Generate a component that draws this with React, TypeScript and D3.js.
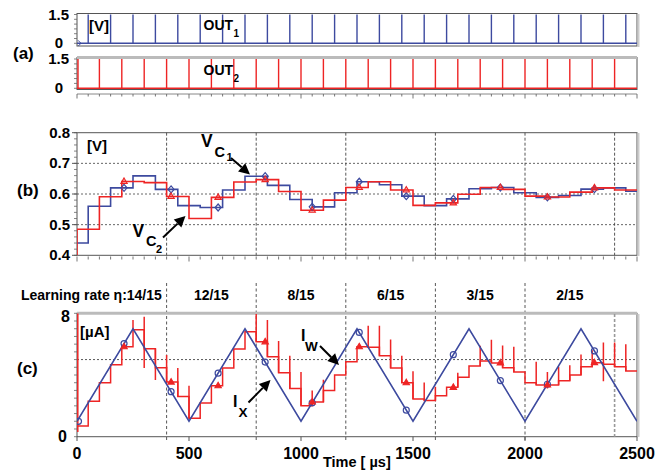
import React from "react";
import * as d3 from "d3";

const W = 661;
const H = 473;

// ---- Panel (a): output spikes (µs)
const out1Times = [50, 150, 250, 350, 450, 550, 650, 750, 850, 950, 1050, 1150, 1250, 1350, 1450, 1550, 1650, 1750, 1850, 1950, 2050, 2150, 2250, 2350, 2450];
const out2Times = [0, 100, 200, 300, 400, 500, 600, 700, 800, 900, 1000, 1100, 1200, 1300, 1400, 1500, 1600, 1700, 1800, 1900, 2000, 2100, 2200, 2300, 2400];
const outHigh = 1.5;

// ---- Panel (b): capacitor voltages (step functions) [V]
const vc1Times = [0, 50, 150, 250, 350, 450, 550, 650, 750, 850, 950, 1050, 1150, 1250, 1350, 1450, 1550, 1650, 1750, 1850, 1950, 2050, 2150, 2250, 2350, 2450];
const vc1Values = [0.44, 0.56, 0.62, 0.659, 0.615, 0.562, 0.556, 0.613, 0.658, 0.628, 0.582, 0.558, 0.604, 0.64, 0.63, 0.593, 0.562, 0.584, 0.617, 0.621, 0.604, 0.589, 0.595, 0.616, 0.62, 0.609];
const vc2Times = [0, 100, 200, 300, 400, 500, 600, 700, 800, 900, 1000, 1100, 1200, 1300, 1400, 1500, 1600, 1700, 1800, 1900, 2000, 2100, 2200, 2300, 2400];
const vc2Values = [0.485, 0.591, 0.641, 0.637, 0.592, 0.52, 0.589, 0.639, 0.647, 0.608, 0.547, 0.58, 0.621, 0.64, 0.613, 0.563, 0.571, 0.599, 0.621, 0.615, 0.593, 0.59, 0.606, 0.62, 0.613];
const vc2Start = 0.4;

// ---- Panel (c): currents [µA]
const ixTimes = [0, 250, 500, 750, 1000, 1250, 1500, 1750, 2000, 2250, 2500];
const ixValues = [1, 7, 1, 7, 1, 7, 1, 7, 1, 7, 1];
const iwTimes = [0, 50, 100, 150, 200, 250, 300, 350, 400, 450, 500, 550, 600, 650, 700, 750, 800, 850, 900, 950, 1000, 1050, 1100, 1150, 1200, 1250, 1300, 1350, 1400, 1450, 1500, 1550, 1600, 1650, 1700, 1750, 1800, 1850, 1900, 1950, 2000, 2050, 2100, 2150, 2200, 2250, 2300, 2350, 2400, 2450];
const iwValues = [0.7, 2.3, 3.5, 4.67, 5.83, 6.93, 5.7, 4.47, 3.54, 2.6, 1.2, 2.18, 3.3, 4.45, 5.68, 6.8, 6.15, 5.18, 4.15, 3.13, 2.0, 2.25, 3.0, 4.0, 4.86, 5.83, 5.8, 5.25, 4.45, 3.5, 2.45, 2.35, 2.65, 3.2, 3.85, 4.58, 4.9, 4.78, 4.47, 4.2, 3.5, 3.35, 3.35, 3.62, 4.0, 4.54, 4.8, 4.69, 4.54, 4.26];
const iwSpikeTimes = [0, 250, 300, 350, 400, 450, 500, 800, 850, 900, 950, 1000, 1050, 1100, 1300, 1350, 1400, 1450, 1500, 1550, 1600, 1700, 1800, 1850, 1900, 1950, 2050, 2100, 2150, 2200, 2250, 2300, 2350, 2400, 2450];
const iwSpikeHigh = [8, 7.56, 7.78, 5.7, 5.3, 4.45, 3.3, 7.95, 7.56, 6.2, 5.25, 4.2, 3.0, 3.7, 7.2, 7.2, 6.3, 5.25, 4.25, 3.52, 3.24, 4.15, 5.9, 6.28, 5.92, 5.83, 4.86, 4.2, 4.54, 4.64, 5.33, 5.6, 6.1, 6.1, 6.0];
const iwSpikeLow = [0.3, 6.93, 4.45, 3.67, 3.54, 2.6, 1.2, 6.15, 5.18, 4.15, 3.13, 2.0, 2.0, 2.25, 5.8, 5.25, 4.45, 3.5, 2.45, 2.35, 2.35, 3.2, 4.58, 4.78, 4.47, 4.2, 3.35, 3.13, 3.35, 3.62, 4.0, 4.54, 3.6, 4.54, 4.26];

const markerTimes = [0, 210, 420, 630, 840, 1050, 1260, 1470, 1680, 1890, 2100, 2310];

const segmentBounds = [0, 400, 800, 1200, 1600, 2000, 2400];
const learningLabels = ["Learning rate \u03b7:14/15", "12/15", "8/15", "6/15", "3/15", "2/15"];
const xTickValues = [0, 500, 1000, 1500, 2000, 2500];

const BLUE = "#3d4a9f";
const RED = "#ee2424";
const FONT = "'Liberation Sans', Arial, sans-serif";

function stepValue(times: number[], values: number[], t: number) {
  const i = d3.bisectRight(times, t) - 1;
  return values[Math.max(0, i)];
}

function Arrow({ x1, y1, x2, y2 }: { x1: number; y1: number; x2: number; y2: number }) {
  const ang = Math.atan2(y2 - y1, x2 - x1);
  const L = 11, Wd = 5.5;
  const bx = x2 - L * Math.cos(ang), by = y2 - L * Math.sin(ang);
  const px = -Math.sin(ang) * Wd, py = Math.cos(ang) * Wd;
  return (
    <g>
      <line x1={x1} y1={y1} x2={bx} y2={by} stroke="#000" strokeWidth={2} />
      <polygon points={`${x2},${y2} ${bx + px},${by + py} ${bx - px},${by - py}`} fill="#000" />
    </g>
  );
}

export default function App() {
  const L = 77, R = 637;
  const x = d3.scaleLinear().domain([0, 2500]).range([L, R]);
  const yA1 = d3.scaleLinear().domain([0, 1.5]).range([43.3, 14.5]);
  const yA2 = d3.scaleLinear().domain([0, 1.5]).range([88.3, 59]);
  const yB = d3.scaleLinear().domain([0.4, 0.8]).range([255.3, 132.7]);
  const yC = d3.scaleLinear().domain([0, 8]).range([436.7, 313.3]);
  const ix = d3.scaleLinear().domain(ixTimes).range(ixValues);

  const stepLine = (times: number[], values: number[], ys: any, start?: number) => {
    const pts: [number, number][] = times.map((t, i) => [t, values[i]]);
    pts.push([2500, values[values.length - 1]]);
    if (start !== undefined) pts.unshift([0, start]);
    return d3
      .line<[number, number]>()
      .x((d) => x(d[0]))
      .y((d) => ys(d[1]))
      .curve(d3.curveStepAfter)(pts) as string;
  };

  const ixPath = d3
    .line<number>()
    .x((t) => x(t))
    .y((t) => yC(ix(t)))(ixTimes) as string;

  const minorTicks = d3.range(0, 2501, 50);
  const frameStroke = "#555";

  const yTicksMinor = (ys: any, lo: number, hi: number, step: number) =>
    d3.range(lo, hi + step / 2, step).map((v, i) => (
      <line key={i} x1={L - 3} x2={L} y1={ys(v)} y2={ys(v)} stroke="#666" strokeWidth={0.8} />
    ));

  const diamond = (cx: number, cy: number, k: string) => (
    <polygon key={k} points={`${cx},${cy - 3.5} ${cx + 3},${cy} ${cx},${cy + 3.5} ${cx - 3},${cy}`} fill="none" stroke={BLUE} strokeWidth={1.2} />
  );
  const triangle = (cx: number, cy: number, k: string, fill: string) => (
    <polygon key={k} points={`${cx},${cy - 3.5} ${cx + 3.2},${cy + 2} ${cx - 3.2},${cy + 2}`} fill={fill} stroke={RED} strokeWidth={1.1} />
  );

  const label = { fontFamily: FONT, fontWeight: 700 } as const;

  return (
    <svg width={W} height={H} viewBox={`0 0 ${W} ${H}`} style={{ display: "block", position: "absolute", left: 0, top: 0, background: "#fff" }}>
      <defs>
        <clipPath id="clipA1"><rect x={L} y={13.5} width={R - L} height={32.5} /></clipPath>
        <clipPath id="clipA2"><rect x={L} y={57.5} width={R - L} height={32} /></clipPath>
        <clipPath id="clipB"><rect x={L} y={132.7} width={R - L} height={122.6} /></clipPath>
        <clipPath id="clipC"><rect x={L} y={313.3} width={R - L} height={123.4} /></clipPath>
      </defs>
      <rect x={0} y={0} width={W} height={H} fill="#fff" />

      {/* ================= Panel (a) ================= */}
      <rect x={L} y={13.5} width={R - L} height={32.5} fill="none" stroke={frameStroke} strokeWidth={1} />
      <line x1={R + 1.5} x2={R + 1.5} y1={14} y2={47} stroke="#ccc" strokeWidth={2} />
      <g clipPath="url(#clipA1)">
        <line x1={L} x2={R} y1={yA1(0)} y2={yA1(0)} stroke={BLUE} strokeWidth={1.5} />
        {out1Times.map((t, i) => (
          <line key={i} x1={x(t)} x2={x(t)} y1={yA1(0)} y2={yA1(outHigh)} stroke={BLUE} strokeWidth={1.4} />
        ))}
        <path d={`M${x(0) + 1},${yA1(0) - 3} L${x(0) + 4},${yA1(0)} L${x(0) + 1},${yA1(0) + 3}`} fill="none" stroke={BLUE} strokeWidth={1} />
      </g>
      {yTicksMinor(yA1, 0, 1.5, 0.25)}
      <text x={69} y={yA1(1.5) + 5} textAnchor="end" fontSize={15} {...label}>1.5</text>
      <text x={63} y={yA1(0) + 5} textAnchor="end" fontSize={15} {...label}>0</text>
      <text x={89} y={31} fontSize={15} {...label}>[V]</text>
      <text x={203.5} y={29.5} fontSize={14} {...label}>OUT</text>
      <text x={233.5} y={36.5} fontSize={10} {...label}>1</text>

      <rect x={L} y={57.5} width={R - L} height={32} fill="none" stroke={frameStroke} strokeWidth={1} />
      <line x1={L} x2={R} y1={57.5} y2={57.5} stroke="#bbb" strokeWidth={3} />
      <g clipPath="url(#clipA2)">
        <line x1={L} x2={R} y1={yA2(0)} y2={yA2(0)} stroke={RED} strokeWidth={1.5} />
        {out2Times.map((t, i) => (
          <line key={i} x1={x(t) + (t === 0 ? 1 : 0)} x2={x(t) + (t === 0 ? 1 : 0)} y1={yA2(0)} y2={yA2(outHigh)} stroke={RED} strokeWidth={1.4} />
        ))}
      </g>
      {yTicksMinor(yA2, 0, 1.5, 0.25)}
      <text x={69} y={yA2(1.5) + 5} textAnchor="end" fontSize={15} {...label}>1.5</text>
      <text x={63} y={yA2(0) + 5} textAnchor="end" fontSize={15} {...label}>0</text>
      <text x={203.5} y={75} fontSize={14} {...label}>OUT</text>
      <text x={233.5} y={81.7} fontSize={10} {...label}>2</text>
      <text x={13} y={58.5} fontSize={17} {...label}>(a)</text>

      {/* axis under (a) */}
      <line x1={L} x2={R} y1={94} y2={94} stroke="#888" strokeWidth={1} />
      {minorTicks.map((t, i) => (
        <line key={i} x1={x(t)} x2={x(t)} y1={94} y2={t % 500 === 0 ? 98.5 : 96.5} stroke="#666" strokeWidth={0.9} />
      ))}

      {/* ================= Panel (b) ================= */}
      <rect x={L} y={132.7} width={R - L} height={122.6} fill="none" stroke={frameStroke} strokeWidth={1} />
      <line x1={R + 1.5} x2={R + 1.5} y1={133} y2={256} stroke="#ccc" strokeWidth={2} />
      {[0.5, 0.6, 0.7].map((v) => (
        <line key={v} x1={L} x2={R} y1={yB(v)} y2={yB(v)} stroke="#555" strokeWidth={0.9} strokeDasharray="2,2" />
      ))}
      {segmentBounds.slice(1).map((t) => (
        <line key={t} x1={x(t)} x2={x(t)} y1={132.7} y2={255.3} stroke="#444" strokeWidth={0.9} strokeDasharray="3,2" />
      ))}
      <g clipPath="url(#clipB)">
        <path d={stepLine(vc1Times, vc1Values, yB)} fill="none" stroke={BLUE} strokeWidth={1.6} />
        <path d={stepLine(vc2Times, vc2Values, yB, vc2Start)} fill="none" stroke={RED} strokeWidth={1.6} />
        {markerTimes.slice(1).map((t, i) => diamond(x(t), yB(stepValue(vc1Times, vc1Values, t)), "d" + i))}
        {markerTimes.slice(1).map((t, i) => triangle(x(t), yB(stepValue(vc2Times, vc2Values, t)), "t" + i, "rgba(238,36,36,0.35)"))}
      </g>
      {yTicksMinor(yB, 0.4, 0.8, 0.02)}
      {[0.4, 0.5, 0.6, 0.7, 0.8].map((v) => (
        <g key={v}>
          <line x1={L - 5} x2={L} y1={yB(v)} y2={yB(v)} stroke="#555" strokeWidth={1} />
          <text x={70} y={yB(v) + 5} textAnchor="end" fontSize={15} {...label}>{v.toFixed(1)}</text>
        </g>
      ))}
      {minorTicks.map((t, i) => (
        <line key={i} x1={x(t)} x2={x(t)} y1={256.5} y2={t % 500 === 0 ? 261.5 : 259.5} stroke="#666" strokeWidth={0.9} />
      ))}
      <text x={87} y={151} fontSize={15} {...label}>[V]</text>
      <text x={17} y={196} fontSize={17} {...label}>(b)</text>
      {/* V_C1 */}
      <text x={201} y={147} fontSize={17.5} {...label}>V</text>
      <text x={214.5} y={157} fontSize={14.5} {...label}>C</text>
      <text x={226.5} y={161} fontSize={11} {...label}>1</text>
      <Arrow x1={231} y1={158} x2={250} y2={174.5} />
      {/* V_C2 */}
      <text x={132.5} y={237} fontSize={17.5} {...label}>V</text>
      <text x={146} y={246} fontSize={14.5} {...label}>C</text>
      <text x={156} y={252.5} fontSize={11} {...label}>2</text>
      <Arrow x1={163} y1={237.5} x2={185.5} y2={216} />

      {/* ================= Panel (c) ================= */}
      {segmentBounds.slice(1, 6).map((t) => (
        <line key={t} x1={x(t)} x2={x(t)} y1={283} y2={441} stroke="#444" strokeWidth={0.9} strokeDasharray="3,2.5" />
      ))}
      {learningLabels.map((s, i) =>
        i === 0 ? (
          <text key={i} x={21} y={300} fontSize={14} {...label}>{s}</text>
        ) : (
          <text key={i} x={x((segmentBounds[i] + segmentBounds[i + 1]) / 2)} y={300} textAnchor="middle" fontSize={14} {...label}>{s}</text>
        )
      )}
      <rect x={L} y={313.3} width={R - L} height={123.4} fill="none" stroke={frameStroke} strokeWidth={1} />
      <line x1={L} x2={R} y1={313.3} y2={313.3} stroke="#bbb" strokeWidth={3} />
      <line x1={R + 1.5} x2={R + 1.5} y1={314} y2={437} stroke="#ccc" strokeWidth={2} />
      <line x1={L} x2={R} y1={yC(5)} y2={yC(5)} stroke="#444" strokeWidth={0.9} strokeDasharray="2,2" />
      <line x1={x(2400)} x2={x(2400)} y1={314} y2={436.7} stroke="#999" strokeWidth={1.6} strokeDasharray="3,2" />
      <g clipPath="url(#clipC)">
        <path d={stepLine(iwTimes, iwValues, yC)} fill="none" stroke={RED} strokeWidth={1.5} />
        {iwSpikeTimes.map((t, i) => (
          <line key={i} x1={x(t) + (t === 0 ? 0.8 : 0)} x2={x(t) + (t === 0 ? 0.8 : 0)} y1={yC(iwSpikeHigh[i])} y2={yC(iwSpikeLow[i])} stroke={RED} strokeWidth={1.5} />
        ))}
        <path d={ixPath} fill="none" stroke={BLUE} strokeWidth={1.6} />
        {markerTimes.map((t, i) => (
          <circle key={"c" + i} cx={x(t) + (t === 0 ? 1.5 : 0)} cy={yC(ix(t))} r={3} fill="none" stroke={BLUE} strokeWidth={1.2} />
        ))}
        {markerTimes.slice(1).map((t, i) => triangle(x(t), yC(stepValue(iwTimes, iwValues, t)), "ct" + i, RED))}
      </g>
      {yTicksMinor(yC, 0, 8, 0.5)}
      <text x={70} y={yC(8) + 9} textAnchor="end" fontSize={16} {...label}>8</text>
      <text x={67} y={yC(0) + 5.5} textAnchor="end" fontSize={16} {...label}>0</text>
      {xTickValues.map((t) => (
        <g key={t}>
          <line x1={x(t)} x2={x(t)} y1={436.7} y2={441} stroke="#555" strokeWidth={1} />
          <text x={x(t)} y={459} textAnchor="middle" fontSize={16} {...label}>{t}</text>
        </g>
      ))}
      <text x={80} y={337} fontSize={15} {...label}>[µA]</text>
      <text x={17} y={374} fontSize={17} {...label}>(c)</text>
      {/* I_W */}
      <text x={301} y={341} fontSize={16} {...label}>I</text>
      <text x={305} y={351} fontSize={13.5} {...label}>W</text>
      <Arrow x1={320} y1={346} x2={339} y2={365} />
      {/* I_X */}
      <text x={233} y={407} fontSize={16} {...label}>I</text>
      <text x={238.5} y={416.5} fontSize={13.5} {...label}>X</text>
      <Arrow x1={248.5} y1={402.5} x2={270.5} y2={380} />

      <text x={323} y={467} fontSize={14.5} {...label}>Time [ µs]</text>
    </svg>
  );
}
